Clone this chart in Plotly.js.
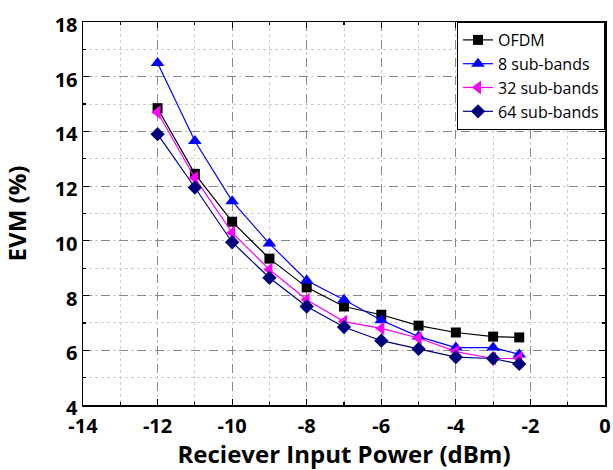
<!DOCTYPE html>
<html><head><meta charset="utf-8">
<script src="https://cdn.plot.ly/plotly-3.0.1.min.js"></script>
<style>body{margin:0;padding:0;background:#fff}#c{width:613px;height:470px}</style>
</head><body><div id="c"></div>
<script>
const power = [-12, -11, -10, -9, -8, -7, -6, -5, -4, -3, -2.3];
const ofdm = [14.85, 12.45, 10.7, 9.35, 8.3, 7.6, 7.3, 6.9, 6.65, 6.5, 6.47];
const sb8 = [16.5, 13.65, 11.45, 9.9, 8.55, 7.85, 7.1, 6.5, 6.1, 6.1, 5.85];
const sb32 = [14.7, 12.3, 10.3, 8.95, 7.85, 7.05, 6.8, 6.45, 5.95, 5.7, 5.7];
const sb64 = [13.9, 11.95, 9.95, 8.65, 7.6, 6.85, 6.35, 6.05, 5.75, 5.7, 5.5];
const names = ["OFDM", "8 sub-bands", "32 sub-bands", "64 sub-bands"];
const xTickVals = [-14, -12, -10, -8, -6, -4, -2, 0];
const xTickText = ["-14", "-12", "-10", "-8", "-6", "-4", "-2", "0"];
const yTickVals = [4, 6, 8, 10, 12, 14, 16, 18];

const FONT = 'Open Sans, sans-serif';
const mk = (y, name, color, symbol, size) => ({
  x: power, y: y, name: name, type: 'scatter', mode: 'lines+markers',
  line: {color: color, width: 1.2},
  marker: {color: color, symbol: symbol, size: size, line: {width: 0}}
});
const data = [
  mk(ofdm, names[0], '#000000', 'square', 10),
  mk(sb8, names[1], '#0000ff', 'triangle-up', 12),
  mk(sb32, names[2], '#ff00ff', 'triangle-left', 12),
  mk(sb64, names[3], '#00007f', 'diamond', 11)
];
const axBase = {
  showline: true, linecolor: '#000', linewidth: 1.5, mirror: 'ticks',
  ticks: 'inside', ticklen: 6, tickcolor: '#000', tickwidth: 1.2,
  showgrid: true, gridcolor: '#888', griddash: 'dash', gridwidth: 1,
  zeroline: false, tickmode: 'array',
  tickfont: {family: FONT, size: 20, color: '#000', weight: 'bold'},
  minor: {dtick: 1, ticks: 'inside', ticklen: 3, tickcolor: '#000', showgrid: true, gridcolor: '#ccc', griddash: 'dot', gridwidth: 1}
};
const layout = {
  width: 613, height: 470,
  margin: {l: 83, r: 8, t: 22, b: 65},
  paper_bgcolor: '#fff', plot_bgcolor: '#fff',
  showlegend: true,
  legend: {x: 1, xanchor: 'right', y: 1, yanchor: 'top', bordercolor: '#000', borderwidth: 1,
    bgcolor: '#fff', font: {family: FONT, size: 16, color: '#000'},
    tracegroupgap: 0},
  xaxis: Object.assign({}, axBase, {range: [-14, 0], tickvals: xTickVals, ticktext: xTickText,
    ticklabelstandoff: 2,
    title: {text: 'Reciever Input Power (dBm)', font: {family: FONT, size: 24, color: '#000', weight: 'bold'}}}),
  yaxis: Object.assign({}, axBase, {range: [4, 18], tickvals: yTickVals, ticklabelshift: 3,
    title: {text: 'EVM (%)', font: {family: FONT, size: 24, color: '#000', weight: 'bold'}}})
};
Plotly.newPlot('c', data, layout, {displayModeBar: false, staticPlot: true});
</script></body></html>
